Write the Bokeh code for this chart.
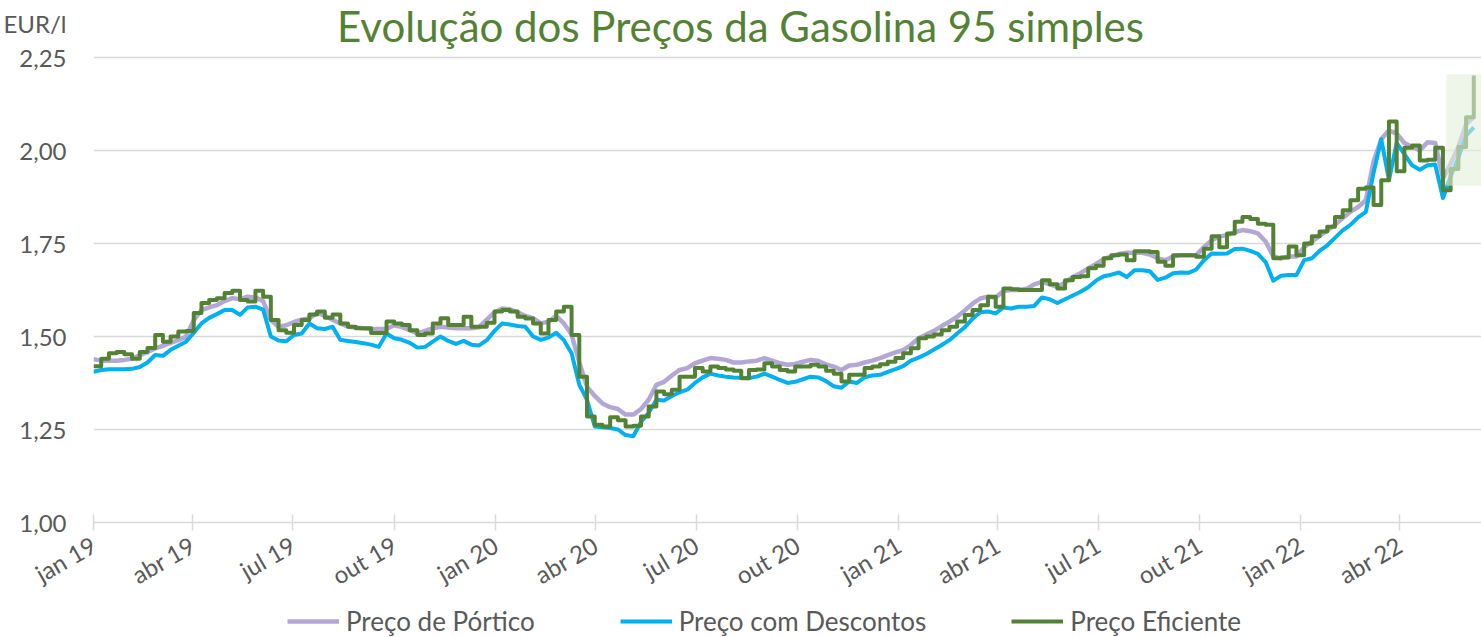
import math
import pandas as pd
from bokeh.plotting import figure
from bokeh.layouts import column
from bokeh.models import FixedTicker, Legend, LegendItem, Range1d
from bokeh.core.properties import value
from bokeh.embed import file_html
from bokeh.resources import INLINE

# ---------------- data ----------------
title_text = "Evolução dos Preços da Gasolina 95 simples"
unit_label = "EUR/l"
series_names = ["Preço de Pórtico", "Preço com Descontos", "Preço Eficiente"]
start_date = "2019-01-01"
end_date = "2022-06-14"

# weekly values (EUR/l), starting 2019-01-01
preco_portico = [
    1.439, 1.435, 1.435, 1.435, 1.437, 1.44, 1.45, 1.458, 1.468, 1.475,
    1.483, 1.49, 1.50, 1.544, 1.571, 1.578, 1.584, 1.595, 1.603, 1.60,
    1.607, 1.605, 1.595, 1.544, 1.526, 1.53, 1.539, 1.545, 1.549, 1.563,
    1.556, 1.545, 1.535, 1.526, 1.524, 1.522, 1.52, 1.52, 1.52, 1.53,
    1.525, 1.517, 1.508, 1.515, 1.522, 1.526, 1.524, 1.522, 1.522, 1.522,
    1.525, 1.545, 1.565, 1.575, 1.573, 1.565, 1.555, 1.549, 1.535, 1.54,
    1.555, 1.535, 1.505, 1.43, 1.365, 1.34, 1.32, 1.31, 1.305, 1.29,
    1.29, 1.305, 1.33, 1.37, 1.378, 1.395, 1.41, 1.415, 1.428, 1.435,
    1.442, 1.44, 1.437, 1.43, 1.43, 1.433, 1.435, 1.442, 1.435, 1.428,
    1.424, 1.426, 1.432, 1.437, 1.434, 1.425, 1.419, 1.41, 1.422, 1.424,
    1.43, 1.435, 1.442, 1.45, 1.457, 1.463, 1.477, 1.495, 1.505, 1.515,
    1.528, 1.54, 1.553, 1.57, 1.588, 1.602, 1.607, 1.605, 1.622, 1.625,
    1.625, 1.628, 1.64, 1.647, 1.64, 1.633, 1.645, 1.66, 1.67, 1.683,
    1.695, 1.708, 1.715, 1.722, 1.725, 1.725, 1.725, 1.72, 1.71, 1.705,
    1.715, 1.718, 1.718, 1.718, 1.74, 1.758, 1.769, 1.772, 1.78, 1.786,
    1.783, 1.777, 1.755, 1.715, 1.71, 1.715, 1.715, 1.74, 1.755, 1.77,
    1.785, 1.80, 1.818, 1.835, 1.848, 1.866, 1.97, 2.03, 2.054, 2.045,
    2.02, 2.01, 2.0, 2.022, 2.02, 1.925, 1.964, 2.009, 2.07, 2.09,
]
preco_descontos = [
    1.405, 1.41, 1.412, 1.412, 1.412, 1.413, 1.418, 1.43, 1.45, 1.448,
    1.464, 1.475, 1.486, 1.51, 1.535, 1.55, 1.56, 1.571, 1.571, 1.558,
    1.578, 1.58, 1.572, 1.50, 1.489, 1.487, 1.504, 1.508, 1.535, 1.522,
    1.52, 1.526, 1.491, 1.488, 1.485, 1.482, 1.478, 1.472, 1.508, 1.495,
    1.491, 1.483, 1.47, 1.472, 1.486, 1.50, 1.488, 1.48, 1.488, 1.478,
    1.476, 1.49, 1.515, 1.535, 1.532, 1.528, 1.526, 1.50, 1.491, 1.497,
    1.51, 1.49, 1.455, 1.37, 1.33, 1.258, 1.256, 1.254, 1.25, 1.235,
    1.232, 1.27, 1.295, 1.33, 1.328, 1.34, 1.35, 1.357, 1.375, 1.39,
    1.40, 1.395, 1.392, 1.39, 1.389, 1.388, 1.392, 1.40, 1.392, 1.383,
    1.375, 1.378, 1.385, 1.392, 1.39, 1.38, 1.366, 1.362, 1.379, 1.375,
    1.39, 1.395, 1.397, 1.405, 1.412, 1.42, 1.435, 1.443, 1.453, 1.465,
    1.477, 1.49, 1.508, 1.525, 1.548, 1.565, 1.567, 1.562, 1.578, 1.575,
    1.58, 1.58, 1.582, 1.605, 1.60, 1.59, 1.60, 1.61, 1.62, 1.632,
    1.65, 1.662, 1.666, 1.672, 1.66, 1.678, 1.678, 1.675, 1.652, 1.658,
    1.67, 1.672, 1.671, 1.68, 1.705, 1.723, 1.722, 1.723, 1.735, 1.736,
    1.73, 1.722, 1.70, 1.65, 1.663, 1.665, 1.665, 1.705, 1.71, 1.73,
    1.745, 1.765, 1.785, 1.80, 1.82, 1.835, 1.94, 2.03, 1.92, 2.02,
    1.99, 1.96, 1.948, 1.96, 1.962, 1.872, 1.93, 1.98, 2.04, 2.062,
]
preco_eficiente = [
    1.42, 1.44, 1.455, 1.458, 1.452, 1.44, 1.458, 1.469, 1.504, 1.486,
    1.50, 1.513, 1.515, 1.563, 1.59, 1.598, 1.603, 1.617, 1.623, 1.598,
    1.594, 1.623, 1.607, 1.544, 1.517, 1.51, 1.531, 1.544, 1.559, 1.567,
    1.55, 1.559, 1.535, 1.526, 1.522, 1.522, 1.509, 1.509, 1.54, 1.535,
    1.531, 1.517, 1.504, 1.508, 1.535, 1.549, 1.531, 1.531, 1.553, 1.526,
    1.526, 1.537, 1.567, 1.571, 1.567, 1.553, 1.548, 1.535, 1.508, 1.544,
    1.567, 1.58, 1.504, 1.392, 1.285, 1.263, 1.258, 1.283, 1.275, 1.258,
    1.26, 1.285, 1.312, 1.352, 1.345, 1.357, 1.392, 1.392, 1.415, 1.406,
    1.419, 1.415, 1.411, 1.408, 1.388, 1.41, 1.411, 1.428, 1.419, 1.41,
    1.406, 1.419, 1.419, 1.424, 1.419, 1.408, 1.40, 1.379, 1.397, 1.397,
    1.415, 1.419, 1.425, 1.432, 1.442, 1.455, 1.468, 1.495, 1.50, 1.505,
    1.517, 1.526, 1.54, 1.558, 1.571, 1.584, 1.607, 1.58, 1.629, 1.627,
    1.625, 1.625, 1.625, 1.651, 1.64, 1.629, 1.651, 1.66, 1.662, 1.683,
    1.69, 1.71, 1.718, 1.72, 1.705, 1.729, 1.729, 1.727, 1.701, 1.69,
    1.718, 1.718, 1.718, 1.714, 1.736, 1.769, 1.74, 1.777, 1.808, 1.821,
    1.816, 1.803, 1.80, 1.71, 1.712, 1.742, 1.718, 1.75, 1.769, 1.782,
    1.795, 1.821, 1.839, 1.866, 1.897, 1.90, 1.853, 1.92, 2.078, 1.944,
    2.007, 2.013, 1.973, 1.975, 2.007, 1.893, 1.95, 2.009, 2.089, 2.201,
]

tick_dates = ["2019-01-01", "2019-04-01", "2019-07-01", "2019-10-01",
              "2020-01-01", "2020-04-01", "2020-07-01", "2020-10-01",
              "2021-01-01", "2021-04-01", "2021-07-01", "2021-10-01",
              "2022-01-01", "2022-04-01"]
tick_labels = ["jan 19", "abr 19", "jul 19", "out 19", "jan 20", "abr 20", "jul 20",
               "out 20", "jan 21", "abr 21", "jul 21", "out 21", "jan 22", "abr 22"]
y_ticks = [1.00, 1.25, 1.50, 1.75, 2.00, 2.25]
y_tick_labels = ["1,00", "1,25", "1,50", "1,75", "2,00", "2,25"]

highlight_start = "2022-05-13"
highlight_low = 1.905
highlight_high = 2.205

# ---------------- layout constants (pixels) ----------------
W = 1481
LEFT = 93            # frame left edge
GRID_TOP_PX = 57     # where the 2,25 grid line sits
PLOT_H = 466         # 2,25 -> 1,00
MAIN_H = 605
FOOT_H = 32

px_per_unit = PLOT_H / (y_ticks[-1] - y_ticks[0])
y_top = y_ticks[-1] + GRID_TOP_PX / px_per_unit          # frame reaches the canvas top
unit_y = y_ticks[-1] + (GRID_TOP_PX - 23) / px_per_unit   # "EUR/l" sits at ~23px
title_y = y_ticks[-1] + (GRID_TOP_PX - 0) / px_per_unit   # title top at the canvas top

# ---------------- build ----------------
t0 = pd.Timestamp(start_date)
weeks = pd.date_range(start_date, periods=len(preco_eficiente), freq="7D")
xd = [int((d - t0).days) for d in weeks]
tick_days = [int((pd.Timestamp(d) - t0).days) for d in tick_dates]
x_end = int((pd.Timestamp(end_date) - t0).days)
hl_start = int((pd.Timestamp(highlight_start) - t0).days)
title_x = x_end * (740 - LEFT) / (W - LEFT)

FONT = "Lato"
GREY_TXT = "#595959"
GRID = "#d9d9d9"
C_PORT = "#B4A7D6"
C_DESC = "#00B0F0"
C_EFIC = "#548235"

p = figure(width=W, height=MAIN_H,
           x_range=Range1d(0, x_end), y_range=Range1d(y_ticks[0], y_top),
           output_backend="svg", toolbar_location=None,
           min_border_left=LEFT, min_border_top=0, min_border_right=0, min_border_bottom=0)
p.outline_line_color = None
p.background_fill_color = "white"
p.border_fill_color = "white"

r1 = p.line(xd, preco_portico, line_color=C_PORT, line_width=4.5, line_join="round")
r2 = p.line(xd, preco_descontos, line_color=C_DESC, line_width=4, line_join="round")
r3 = p.step(xd, preco_eficiente, mode="after", line_color=C_EFIC, line_width=4, line_join="round")

p.quad(left=[hl_start], right=[x_end + 20], bottom=[highlight_low], top=[highlight_high],
       fill_color="#E2EFDA", fill_alpha=0.6, line_color=None)

p.text(x=[title_x], y=[title_y], text=[title_text], text_align="center",
       text_baseline="top", text_font=value(FONT), text_font_size="42px",
       text_color=C_EFIC)

# axes
p.xaxis.ticker = FixedTicker(ticks=tick_days)
p.xaxis.major_label_overrides = {d: lab for d, lab in zip(tick_days, tick_labels)}
p.xaxis.major_label_orientation = math.pi / 6
p.xaxis.major_label_text_font = FONT
p.xaxis.major_label_text_font_size = "24px"
p.xaxis.major_label_text_color = GREY_TXT
p.xaxis.major_label_standoff = 12
p.xaxis.axis_line_color = GRID
p.xaxis.axis_line_width = 1.5
p.xaxis.major_tick_line_color = GRID
p.xaxis.major_tick_line_width = 1.5
p.xaxis.major_tick_in = 8
p.xaxis.major_tick_out = 8
p.xaxis.minor_tick_line_color = None

y_axis_ticks = y_ticks + [unit_y]
y_axis_labels = y_tick_labels + [unit_label]
p.yaxis.ticker = FixedTicker(ticks=y_axis_ticks)
p.yaxis.major_label_overrides = {v: lab for v, lab in zip(y_axis_ticks, y_axis_labels)}
p.yaxis.major_label_text_font = FONT
p.yaxis.major_label_text_font_size = "24px"
p.yaxis.major_label_text_color = GREY_TXT
p.yaxis.major_label_standoff = 21
p.yaxis.axis_line_color = None
p.yaxis.major_tick_line_color = None
p.yaxis.minor_tick_line_color = None

p.xgrid.visible = False
p.ygrid.ticker = FixedTicker(ticks=y_ticks)
p.ygrid.grid_line_color = GRID
p.ygrid.grid_line_width = 1.5

# footer strip with the legend (series drawn again, but outside its visible range)
foot = figure(width=W, height=FOOT_H, x_range=Range1d(-2, -1), y_range=Range1d(-2, -1),
              output_backend="svg", toolbar_location=None,
              x_axis_location=None, y_axis_location=None,
              min_border_left=LEFT, min_border_right=0, min_border_top=0, min_border_bottom=0)
foot.outline_line_color = None
foot.xgrid.visible = False
foot.ygrid.visible = False
f1 = foot.line(xd, preco_portico, line_color=C_PORT, line_width=4.5)
f2 = foot.line(xd, preco_descontos, line_color=C_DESC, line_width=4)
f3 = foot.line(xd, preco_eficiente, line_color=C_EFIC, line_width=4)

legend = Legend(items=[LegendItem(label=series_names[0], renderers=[f1]),
                       LegendItem(label=series_names[1], renderers=[f2]),
                       LegendItem(label=series_names[2], renderers=[f3])],
                orientation="horizontal", location=(287 - LEFT, 0),
                glyph_width=52, glyph_height=26, label_standoff=7, spacing=85,
                label_text_font=FONT, label_text_font_size="26px",
                label_text_color=GREY_TXT, border_line_color=None,
                background_fill_alpha=0, padding=0, margin=0)
foot.add_layout(legend)

layout = column(p, foot, spacing=0)
open("out.html", "w").write(file_html(layout, INLINE))
